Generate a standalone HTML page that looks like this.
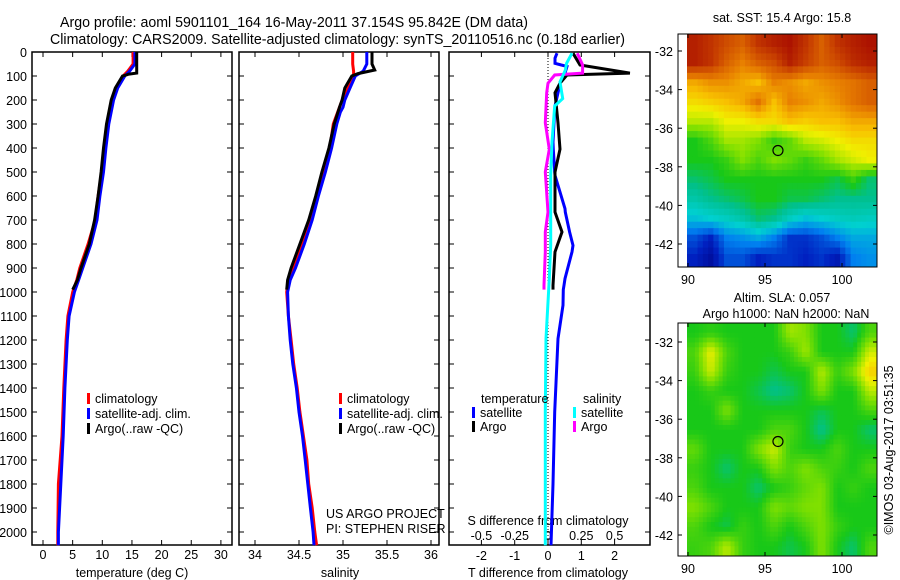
<!DOCTYPE html>
<html><head><meta charset="utf-8"><style>
body{margin:0;background:#fff}
svg{display:block;font-family:"Liberation Sans",sans-serif;font-size:12.5px}
</style></head><body>
<svg id="s" width="900" height="580" viewBox="0 0 900 580">
<text x="60" y="27" textLength="468" lengthAdjust="spacingAndGlyphs" font-size="15">Argo profile: aoml 5901101_164 16-May-2011 37.154S 95.842E (DM data)</text>
<text x="50" y="44" textLength="575" lengthAdjust="spacingAndGlyphs" font-size="15">Climatology: CARS2009. Satellite-adjusted climatology: synTS_20110516.nc (0.18d earlier)</text>
<text x="782" y="22" text-anchor="middle">sat. SST: 15.4 Argo: 15.8</text>
<text x="782" y="302" text-anchor="middle">Altim. SLA: 0.057</text>
<text x="786" y="318" text-anchor="middle">Argo h1000: NaN h2000: NaN</text>
<text transform="translate(893,450) rotate(-90)" text-anchor="middle">©IMOS 03-Aug-2017 03:51:35</text>
<text x="326" y="518">US ARGO PROJECT</text>
<text x="326" y="533">PI: STEPHEN RISER</text>
</svg>
<script>
// ---------- data ----------
const depthTicks=[0,100,200,300,400,500,600,700,800,900,1000,1100,1200,1300,1400,1500,1600,1700,1800,1900,2000];
const tTicks=[0,5,10,15,20,25,30];
const sTicks=[34,34.5,35,35.5,36];
const dTTicks=[-2,-1,0,1,2];
const dSTicks=[-0.5,-0.25,0,0.25,0.5];
const tDepth=[0,50,80,100,150,200,300,400,500,600,700,800,900,950,1000,1100,1200,1400,1600,1800,2000,2055];
const tClim=[15.2,15.2,14.3,13.5,12.3,11.6,10.8,10.3,9.9,9.3,8.8,7.6,6.2,5.7,5.0,4.2,3.9,3.5,3.2,2.6,2.5,2.5];
const tSat=[15.5,15.5,14.6,13.8,12.6,11.9,11.1,10.6,10.2,9.6,9.1,8.1,6.7,6.0,5.3,4.4,4.1,3.7,3.4,3.0,2.6,2.6];
const argoDepth=[0,50,88,92,100,150,200,300,400,500,600,700,800,900,950,990];
const tArgo=[15.8,15.8,15.8,14.5,13.4,12.2,11.5,10.7,10.2,9.8,9.3,8.7,7.8,6.4,5.8,5.0];
const sDepth=[0,50,80,100,150,200,230,250,300,400,500,600,700,800,900,950,1000,1100,1200,1300,1400,1500,1600,1700,1800,1900,2000,2055];
const sClim=[35.11,35.11,35.12,35.12,35.05,34.99,34.96,34.94,34.89,34.85,34.77,34.70,34.63,34.53,34.43,34.38,34.36,34.38,34.41,34.44,34.48,34.51,34.55,34.59,34.61,34.65,34.68,34.70];
const sSat=[35.27,35.27,35.23,35.14,35.08,35.02,35.0,34.97,34.93,34.87,34.80,34.72,34.65,34.56,34.46,34.40,34.37,34.38,34.40,34.43,34.47,34.50,34.54,34.57,34.60,34.63,34.66,34.67];
const sArgo=[35.33,35.33,35.36,35.17,35.10,35.02,34.99,34.96,34.90,34.84,34.76,34.69,34.61,34.51,34.41,34.37,34.36];
const sArgoDepth=[0,50,75,90,100,150,200,230,300,400,500,600,700,800,900,950,990];
const dDepth=[5,26,47,54,60,88,96,130,170,225,295,375,405,500,514,653,667,750,806,833,944,972,990,1055,1194,1500,1800,2055];
const dTSat=[0.27,0.21,0.21,0.4,0.57,0.51,0.5,0.36,0.3,0.21,0.18,0.15,0.16,0.2,0.21,0.51,0.52,0.65,0.75,0.72,0.51,0.48,0.46,0.45,0.3,0.2,0.15,0.09];
const dArgoDepth=[5,54,88,96,130,170,295,405,500,667,750,833,972,990];
const dTArgo=[0.75,0.96,2.46,0.57,0.36,0.21,0.3,0.36,0.21,0.21,0.42,0.21,0.15,0.15];
const dSArgo=[0.22,0.26,0.26,0.05,0,-0.01,-0.02,0.01,-0.02,0,-0.02,-0.02,-0.03,-0.03];
const dSSatDepth=[5,47,76,125,194,225,375,514,653,806,944,1194,1500,1800,2055];
const dSSat=[0.18,0.14,0.13,0.09,0.11,0.05,0.03,0.02,0.02,0.02,0.01,-0.015,-0.02,-0.02,-0.02];
const mapLonTicks=[90,95,100];
const mapLatTicks=[-32,-34,-36,-38,-40,-42];
const sst=[
[.95,.92,.88,.85,.92,.95,.97,.92,.85,.92,.95,.97],
[.95,.92,.85,.8,.85,.88,.95,.9,.85,.88,.93,.95],
[.75,.78,.78,.75,.72,.8,.78,.75,.78,.8,.82,.85],
[.68,.7,.72,.75,.82,.72,.8,.78,.75,.78,.82,.85],
[.6,.6,.65,.65,.68,.68,.72,.7,.72,.72,.75,.75],
[.45,.5,.58,.58,.55,.48,.52,.6,.62,.65,.68,.68],
[.45,.45,.48,.55,.5,.55,.52,.48,.52,.58,.62,.65],
[.4,.42,.45,.45,.45,.45,.45,.45,.45,.42,.48,.4],
[.35,.38,.4,.42,.45,.45,.42,.42,.4,.38,.38,.38],
[.28,.3,.32,.35,.4,.38,.32,.28,.3,.32,.33,.32],
[.15,.1,.2,.22,.25,.2,.12,.12,.15,.2,.25,.25],
[.1,.05,.15,.15,.1,.12,.12,.1,.12,.08,.2,.22]];
const sla=[
[.45,.47,.45,.45,.45,.45,.58,.55,.45,.45,.4,.5],
[.5,.65,.5,.45,.45,.45,.48,.58,.45,.45,.45,.62],
[.48,.62,.48,.45,.45,.42,.45,.45,.6,.48,.55,.7],
[.45,.48,.45,.45,.42,.38,.4,.45,.55,.45,.45,.6],
[.45,.45,.55,.45,.45,.45,.45,.45,.42,.45,.45,.5],
[.45,.45,.45,.45,.45,.5,.5,.45,.38,.45,.45,.4],
[.52,.45,.45,.45,.55,.62,.48,.45,.45,.5,.45,.45],
[.48,.45,.4,.45,.45,.55,.5,.55,.5,.48,.45,.5],
[.5,.45,.45,.45,.4,.45,.48,.52,.55,.45,.48,.45],
[.55,.5,.45,.45,.45,.55,.52,.55,.55,.45,.45,.45],
[.5,.45,.42,.48,.45,.5,.45,.5,.55,.48,.45,.45],
[.48,.5,.6,.48,.45,.45,.42,.45,.55,.45,.4,.5]];
const argoLon=95.842, argoLat=-37.154;

// ---------- helpers ----------
const svg=document.getElementById('s');const NS='http://www.w3.org/2000/svg';
function el(t,a,p){const e=document.createElementNS(NS,t);for(const k in a)e.setAttribute(k,a[k]);(p||svg).appendChild(e);return e;}
const Y=d=>52+d*0.24;
const xT=v=>43+v*5.93, xS=v=>255+(v-34)*88, xDT=v=>548+v*33.3, xDS=v=>548+v*133.2;
const TOP=52,BOT=545;
function frame(x0,x1,name){
  const g=el('g',{});
  
  el('rect',{x:x0,y:TOP,width:x1-x0,height:BOT-TOP,fill:'none',stroke:'#000','stroke-width':1.5},g);
  depthTicks.forEach(d=>{el('line',{x1:x0,x2:x0+5,y1:Y(d),y2:Y(d),stroke:'#000'},g);el('line',{x1:x1-5,x2:x1,y1:Y(d),y2:Y(d),stroke:'#000'},g);});
  return g;
}
function xticks(g,ticks,f,labelY,top,bottom){
  ticks.forEach(v=>{const x=f(v);
    if(top)el('line',{x1:x,x2:x,y1:TOP,y2:TOP+5,stroke:'#000'},g);
    if(bottom)el('line',{x1:x,x2:x,y1:BOT-5,y2:BOT,stroke:'#000'},g);
    if(labelY){const t=el('text',{x:x,y:labelY,'text-anchor':'middle'},g);t.textContent=String(v);
      }
  });
}
function line(xs,ds,f,color,name,w){
  const p=xs.map((v,i)=>f(v).toFixed(1)+','+Y(ds[i]).toFixed(1)).join(' ');
  const e=el('polyline',{points:p,fill:'none',stroke:color,'stroke-width':w||3,'stroke-linejoin':'miter'});
  
}
function legend(x,y,color,label){
  const r=el('rect',{x:x,y:y-10,width:3,height:11,fill:color});
  
  const t=el('text',{x:x+8,y:y});t.textContent=label;
  
}
// panel 1
const g1=frame(32,232,'temperature-panel');
depthTicks.forEach(d=>{const t=el('text',{x:27,y:Y(d)+5,'text-anchor':'end'});t.textContent=d;
  });
xticks(g1,tTicks,xT,559,true,true);
const xl1=el('text',{x:132,y:577,'text-anchor':'middle'});xl1.textContent='temperature (deg C)';

line(tClim,tDepth,xT,'#f00','temp-climatology-line');
line(tSat,tDepth,xT,'#00f','temp-satellite-line');
line(tArgo,argoDepth,xT,'#000','temp-argo-line');
legend(87,403,'#f00','climatology');legend(87,418,'#00f','satellite-adj. clim.');legend(87,433,'#000','Argo(..raw -QC)');
// panel 2
const g2=frame(239,439,'salinity-panel');
xticks(g2,sTicks,xS,559,true,true);
const xl2=el('text',{x:340,y:577,'text-anchor':'middle'});xl2.textContent='salinity';

line(sClim,sDepth,xS,'#f00','sal-climatology-line');
line(sSat,sDepth,xS,'#00f','sal-satellite-line');
line(sArgo,sArgoDepth,xS,'#000','sal-argo-line');
legend(339,403,'#f00','climatology');legend(339,418,'#00f','satellite-adj. clim.');legend(339,433,'#000','Argo(..raw -QC)');
// panel 3
const g3=frame(449,650,'difference-panel');
xticks(g3,dTTicks,xDT,560,true,true);
xticks(g3,dSTicks,xDS,540,false,false);
el('line',{x1:548,x2:548,y1:TOP,y2:BOT,stroke:'#000','stroke-dasharray':'1,2'});
const sl=el('text',{x:548,y:525,'text-anchor':'middle'});sl.textContent='S difference from climatology';

const tl=el('text',{x:548,y:577,'text-anchor':'middle'});tl.textContent='T difference from climatology';

line(dTSat,dDepth,xDT,'#00f','dt-satellite-line');
line(dTArgo,dArgoDepth,xDT,'#000','dt-argo-line');
line(dSArgo,dArgoDepth,xDS,'#f0f','ds-argo-line');
line(dSSat,dSSatDepth,xDS,'#0ff','ds-satellite-line');
const lt=el('text',{x:481,y:403});lt.textContent='temperature';
const ls=el('text',{x:583,y:403});ls.textContent='salinity';
legend(472,417,'#00f','satellite');legend(472,431,'#000','Argo');
legend(573,417,'#0ff','satellite');legend(573,431,'#f0f','Argo');

// ---------- maps ----------
const stops=[[0,'#000080'],[.1,'#0020c0'],[.2,'#0080f0'],[.3,'#00d0d0'],[.38,'#00c090'],[.45,'#18c818'],[.55,'#80e000'],[.65,'#f0f000'],[.72,'#f8c000'],[.8,'#e88000'],[.9,'#c84000'],[1,'#a00000']];
function hex(h){return [1,3,5].map(i=>parseInt(h.substr(i,2),16));}
function cmap(v){for(let i=1;i<stops.length;i++){if(v<=stops[i][0]){const a=stops[i-1],b=stops[i];const t=(v-a[0])/(b[0]-a[0]);const A=hex(a[1]),B=hex(b[1]);return 'rgb('+A.map((c,k)=>Math.round(c+(B[k]-c)*t)).join(',')+')';}}return stops[stops.length-1][1];}
function sample(grid,r,c){ // bilinear lookup at fractional grid coordinates
  const R=grid.length,C=grid[0].length;
  r=Math.max(0,Math.min(R-1,r));c=Math.max(0,Math.min(C-1,c));
  const r0=Math.floor(r),c0=Math.floor(c),r1=Math.min(R-1,r0+1),c1=Math.min(C-1,c0+1),fr=r-r0,fc=c-c0;
  return grid[r0][c0]*(1-fr)*(1-fc)+grid[r0][c1]*(1-fr)*fc+grid[r1][c0]*fr*(1-fc)+grid[r1][c1]*fr*fc;
}
function map(y0,latRef,grid,name,sub){
  const x0=678,x1=877,y1=y0+233;
  const lx=lon=>688+(lon-90)*15.4, ly=lat=>latRef+(-32-lat)*19.3;
  const g=el('g',{});
  const R=grid.length*sub,C=grid[0].length*sub;
  const cw=(x1-687)/C, ch=(y1-y0)/R;
  for(let r=0;r<R;r++)for(let c=0;c<C;c++){
    const v=sample(grid,(r+0.5)/sub-0.5,(c+0.5)/sub-0.5);
    const cell=el('rect',{x:687+c*cw,y:y0+r*ch,width:cw+0.5,height:ch+0.5,fill:cmap(v)},g);
    
  }
  el('rect',{x:x0,y:y0,width:x1-x0,height:y1-y0,fill:'none',stroke:'#000'},g);
  mapLonTicks.forEach(l=>{const x=lx(l);el('line',{x1:x,x2:x,y1:y1-4,y2:y1,stroke:'#000'},g);el('line',{x1:x,x2:x,y1:y0,y2:y0+4,stroke:'#000'},g);
    const t=el('text',{x:x,y:y1+17,'text-anchor':'middle'},g);t.textContent=l;});
  mapLatTicks.forEach(l=>{const y=ly(l);el('line',{x1:x0,x2:x0+4,y1:y,y2:y,stroke:'#000'},g);el('line',{x1:x1-4,x2:x1,y1:y,y2:y,stroke:'#000'},g);
    const t=el('text',{x:673,y:y+5,'text-anchor':'end'},g);t.textContent=l;});
  const c=el('circle',{cx:lx(argoLon),cy:ly(argoLat),r:5,fill:'none',stroke:'#000','stroke-width':1.2},g);
  
}
map(34,51,sst,'sst-map',3);
map(323,342,sla,'sla-map',4);
</script>
</body></html>
